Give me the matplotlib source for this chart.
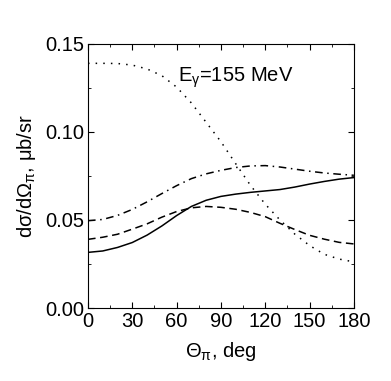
import numpy as np
import matplotlib
matplotlib.use('Agg')
import matplotlib.pyplot as plt

plt.rcParams['font.family'] = ['Liberation Sans', 'DejaVu Sans']
plt.rcParams['mathtext.fontset'] = 'custom'
plt.rcParams['mathtext.rm'] = 'Liberation Sans'
plt.rcParams['mathtext.it'] = 'Liberation Sans:italic'

# angles (deg) and cross sections (mub/sr)
theta = [0, 10, 20, 30, 40, 50, 60, 70, 80, 90, 100, 110, 120, 130, 140, 150, 160, 170, 180]
solid = [0.0316, 0.0324, 0.0344, 0.0372, 0.0414, 0.0466, 0.0525, 0.0577, 0.0612, 0.0634,
         0.0647, 0.0657, 0.0665, 0.0673, 0.0687, 0.0704, 0.0719, 0.0732, 0.0741]
dashed = [0.0390, 0.0402, 0.0419, 0.0448, 0.0478, 0.0516, 0.0548, 0.0569, 0.0577, 0.0572,
          0.0561, 0.0543, 0.0519, 0.0481, 0.0446, 0.0413, 0.0391, 0.0373, 0.0364]
dashdot = [0.0496, 0.0503, 0.0526, 0.0560, 0.0603, 0.0650, 0.0695, 0.0735, 0.0762, 0.0782,
           0.0798, 0.0807, 0.0809, 0.0801, 0.0789, 0.0777, 0.0767, 0.0760, 0.0754]
dotted = [0.1390, 0.1390, 0.1389, 0.1380, 0.1358, 0.1320, 0.1255, 0.1165, 0.1055, 0.0945,
          0.0820, 0.0697, 0.0590, 0.0500, 0.0420, 0.0355, 0.0305, 0.0278, 0.0262]

fig = plt.figure(figsize=(3.91, 3.81), dpi=100)
ax = fig.add_axes([0.225, 0.1916, 0.68, 0.693])

ax.plot(theta, solid, 'k-', lw=1.1)
ax.plot(theta, dashed, color='k', lw=1.1, linestyle=(0, (5, 3)))
ax.plot(theta, dashdot, color='k', lw=1.1, linestyle=(0, (5, 3, 1, 3)))
ax.plot(theta, dotted, color='k', lw=1.1, linestyle=(0, (1, 4)))

ax.set_xlim(0, 180)
ax.set_ylim(0, 0.15)
ax.set_xticks(np.arange(0, 181, 30))
ax.set_xticks(np.arange(0, 181, 15), minor=True)
ax.set_yticks([0.0, 0.05, 0.10, 0.15])
ax.set_yticks(np.arange(0, 0.151, 0.025), minor=True)
ax.set_yticklabels(['0.00', '0.05', '0.10', '0.15'])
ax.tick_params(which='both', direction='in', top=True, right=True, labelsize=14.5)
ax.tick_params(axis='x', pad=3)
ax.tick_params(axis='y', pad=3)
ax.tick_params(which='major', length=4)
ax.tick_params(which='minor', length=2.5)

ax.set_xlabel('Θ$_{\\mathrm{\\pi}}$, deg', fontsize=14.5, labelpad=6)
ax.set_ylabel('dσ/dΩ$_{\\mathrm{\\pi}}$, μb/sr', fontsize=14.5, labelpad=5)
ax.text(61, 0.1286, 'E$_{\\mathrm{\\gamma}}$=155 MeV', fontsize=14.5, va='baseline')

fig.savefig('out.png', dpi=100)
